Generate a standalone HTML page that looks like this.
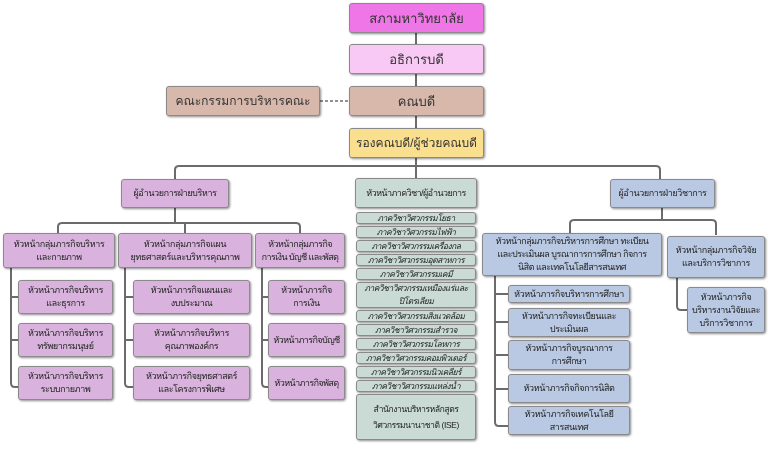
<!DOCTYPE html>
<html><head><meta charset="utf-8"><style>
body{margin:0;width:768px;height:454px;background:#fff;position:relative;overflow:hidden;font-family:"Liberation Sans","Noto Sans CJK SC","WenQuanYi Zen Hei",sans-serif;}
.b{position:absolute;box-sizing:border-box;border:1px solid #8a8a8a;border-radius:3px;box-shadow:1px 1px 2px rgba(0,0,0,.45);display:flex;align-items:center;justify-content:center;text-align:center;font-size:9px;line-height:13px;color:#222;white-space:nowrap;letter-spacing:-0.4px;overflow:hidden}
.t{font-size:13px;color:#333;letter-spacing:0}
.p{background:#d9b3dd}.g{background:#c9dbd4}.bl{background:#b9c9e3}
.g.r{font-size:8.5px;line-height:11px;font-style:italic;letter-spacing:-0.5px}
svg{position:absolute;left:0;top:0}
</style></head><body>
<svg width="768" height="454" fill="none" stroke="#6b6b6b" stroke-width="2">
<path d="M416 33V150"/>
<path d="M320 101H349" stroke-dasharray="3,2" stroke-width="1.5"/>
<path d="M416 158V166"/>
<path d="M175 180V170Q175 166 179 166H656Q660 166 660 170V180"/>
<path d="M416 166V178"/>
<path d="M175 208V223"/>
<path d="M58 233V227Q58 223 62 223H296Q300 223 300 227V233"/>
<path d="M185 223V233"/>
<path d="M11 268V383Q11 387 15 387H18M11 297H18M11 340H18"/>
<path d="M125 268V383Q125 387 129 387H133M125 297H133M125 340H133"/>
<path d="M262 268V383Q262 387 266 387H268M262 297H268M262 340H268"/>
<path d="M662 208V220"/>
<path d="M570 233V224Q570 220 574 220H712Q716 220 716 224V235"/>
<path d="M495 275V422Q495 426 499 426H508M495 294H508M495 322H508M495 355H508M495 389H508"/>
<path d="M677 278V306Q677 310 681 310H687"/>
</svg>
<div class="b t" style="left:349px;top:3px;width:135px;height:30px;background:#ef76e6">สภามหาวิทยาลัย</div>
<div class="b t" style="left:349px;top:44px;width:135px;height:30px;background:#f7c9f4">อธิการบดี</div>
<div class="b t" style="left:349px;top:86px;width:135px;height:30px;background:#d9b8ac">คณบดี</div>
<div class="b t" style="left:166px;top:86px;width:154px;height:30px;background:#d9b8ac;font-size:12px">คณะกรรมการบริหารคณะ</div>
<div class="b t" style="left:349px;top:128px;width:135px;height:30px;background:#f9df8e;font-size:12px">รองคณบดี/ผู้ช่วยคณบดี</div>

<div class="b p" style="left:121px;top:179px;width:108px;height:29px">ผู้อำนวยการฝ่ายบริหาร</div>
<div class="b p" style="left:3px;top:233px;width:112px;height:35px">หัวหน้ากลุ่มภารกิจบริหาร<br>และกายภาพ</div>
<div class="b p" style="left:118px;top:233px;width:134px;height:35px">หัวหน้ากลุ่มภารกิจแผน<br>ยุทธศาสตร์และบริหารคุณภาพ</div>
<div class="b p" style="left:255px;top:233px;width:90px;height:35px;letter-spacing:-0.6px">หัวหน้ากลุ่มภารกิจ<br>การเงิน บัญชี และพัสดุ</div>
<div class="b p" style="left:18px;top:280px;width:95px;height:34px">หัวหน้าภารกิจบริหาร<br>และธุรการ</div>
<div class="b p" style="left:18px;top:323px;width:95px;height:34px">หัวหน้าภารกิจบริหาร<br>ทรัพยากรมนุษย์</div>
<div class="b p" style="left:18px;top:366px;width:95px;height:34px">หัวหน้าภารกิจบริหาร<br>ระบบกายภาพ</div>
<div class="b p" style="left:133px;top:280px;width:117px;height:34px">หัวหน้าภารกิจแผนและ<br>งบประมาณ</div>
<div class="b p" style="left:133px;top:323px;width:117px;height:34px">หัวหน้าภารกิจบริหาร<br>คุณภาพองค์กร</div>
<div class="b p" style="left:133px;top:366px;width:117px;height:34px">หัวหน้าภารกิจยุทธศาสตร์<br>และโครงการพิเศษ</div>
<div class="b p" style="left:268px;top:280px;width:77px;height:34px">หัวหน้าภารกิจ<br>การเงิน</div>
<div class="b p" style="left:268px;top:323px;width:77px;height:34px;letter-spacing:-0.6px">หัวหน้าภารกิจบัญชี</div>
<div class="b p" style="left:268px;top:366px;width:77px;height:34px;letter-spacing:-0.6px">หัวหน้าภารกิจพัสดุ</div>

<div class="b g" style="left:355px;top:178px;width:122px;height:30px;letter-spacing:-0.6px">หัวหน้าภาควิชา/ผู้อำนวยการ</div>
<div class="b g r" style="left:356px;top:212px;width:120px;height:12px">ภาควิชาวิศวกรรมโยธา</div>
<div class="b g r" style="left:356px;top:226px;width:120px;height:12px">ภาควิชาวิศวกรรมไฟฟ้า</div>
<div class="b g r" style="left:356px;top:240px;width:120px;height:12px">ภาควิชาวิศวกรรมเครื่องกล</div>
<div class="b g r" style="left:356px;top:254px;width:120px;height:12px">ภาควิชาวิศวกรรมอุตสาหการ</div>
<div class="b g r" style="left:356px;top:268px;width:120px;height:12px">ภาควิชาวิศวกรรมเคมี</div>
<div class="b g r" style="left:356px;top:282px;width:120px;height:26px;line-height:13px">ภาควิชาวิศวกรรมเหมืองแร่และ<br>ปิโตรเลียม</div>
<div class="b g r" style="left:356px;top:310px;width:120px;height:12px">ภาควิชาวิศวกรรมสิ่งแวดล้อม</div>
<div class="b g r" style="left:356px;top:324px;width:120px;height:12px">ภาควิชาวิศวกรรมสำรวจ</div>
<div class="b g r" style="left:356px;top:338px;width:120px;height:12px">ภาควิชาวิศวกรรมโลหการ</div>
<div class="b g r" style="left:356px;top:352px;width:120px;height:12px">ภาควิชาวิศวกรรมคอมพิวเตอร์</div>
<div class="b g r" style="left:356px;top:366px;width:120px;height:12px">ภาควิชาวิศวกรรมนิวเคลียร์</div>
<div class="b g r" style="left:356px;top:380px;width:120px;height:12px">ภาควิชาวิศวกรรมแหล่งน้ำ</div>
<div class="b g" style="left:356px;top:394px;width:120px;height:46px;font-size:8.5px;line-height:16px">สำนักงานบริหารหลักสูตร<br>วิศวกรรมนานาชาติ (ISE)</div>

<div class="b bl" style="left:610px;top:179px;width:105px;height:29px">ผู้อำนวยการฝ่ายวิชาการ</div>
<div class="b bl" style="left:482px;top:233px;width:180px;height:43px;letter-spacing:-0.5px">หัวหน้ากลุ่มภารกิจบริหารการศึกษา ทะเบียน<br>และประเมินผล บูรณาการการศึกษา กิจการ<br>นิสิต และเทคโนโลยีสารสนเทศ</div>
<div class="b bl" style="left:667px;top:236px;width:98px;height:42px">หัวหน้ากลุ่มภารกิจวิจัย<br>และบริการวิชาการ</div>
<div class="b bl" style="left:508px;top:285px;width:122px;height:18px">หัวหน้าภารกิจบริหารการศึกษา</div>
<div class="b bl" style="left:508px;top:308px;width:122px;height:29px">หัวหน้าภารกิจทะเบียนและ<br>ประเมินผล</div>
<div class="b bl" style="left:508px;top:340px;width:122px;height:30px">หัวหน้าภารกิจบูรณาการ<br>การศึกษา</div>
<div class="b bl" style="left:508px;top:374px;width:122px;height:29px">หัวหน้าภารกิจกิจการนิสิต</div>
<div class="b bl" style="left:508px;top:406px;width:122px;height:29px">หัวหน้าภารกิจเทคโนโลยี<br>สารสนเทศ</div>
<div class="b bl" style="left:687px;top:287px;width:78px;height:46px">หัวหน้าภารกิจ<br>บริหารงานวิจัยและ<br>บริการวิชาการ</div>
</body></html>
